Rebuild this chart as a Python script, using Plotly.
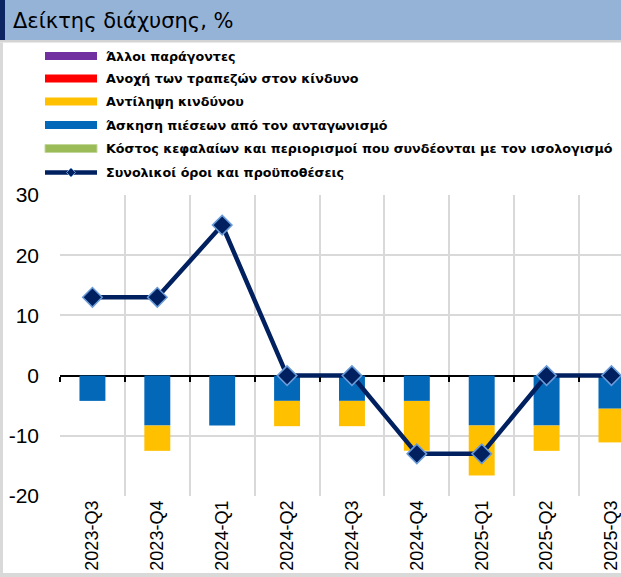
import plotly.graph_objects as go

# ---- data ----
categories = ["2023-Q3", "2023-Q4", "2024-Q1", "2024-Q2", "2024-Q3",
              "2024-Q4", "2025-Q1", "2025-Q2", "2025-Q3"]
other_factors = [0, 0, 0, 0, 0, 0, 0, 0, 0]
risk_tolerance = [0, 0, 0, 0, 0, 0, 0, 0, 0]
risk_perception = [0, -4.2, 0, -4.2, -4.2, -8.3, -8.3, -4.2, -5.6]
competition = [-4.2, -8.3, -8.3, -4.2, -4.2, -4.2, -8.3, -8.3, -5.5]
cost_of_funds = [0, 0, 0, 0, 0, 0, 0, 0, 0]
overall = [13, 13, 25, 0, 0, -13, -13, 0, 0]
y_ticks = [-20, -10, 0, 10, 20, 30]
y_tick_labels = ["-20", "-10", "0", "10", "20", "30"]

names = ["Άλλοι παράγοντες",
         "Ανοχή των τραπεζών στον κίνδυνο",
         "Αντίληψη κινδύνου",
         "Άσκηση πιέσεων από τον ανταγωνισμό",
         "Κόστος κεφαλαίων και περιορισμοί που συνδέονται με τον ισολογισμό",
         "Συνολικοί όροι και προϋποθέσεις"]
colors = ["#7030A0", "#FF0000", "#FFC000", "#0468B8", "#9BBB59", "#002060"]
title_text = "Δείκτης διάχυσης, %"

# ---- geometry ----
W, H = 621, 577
L, R, T, B = 60, 0, 195, 81
PW, PH = W - L - R, H - T - B
FONT = "Liberation Sans, Arial, sans-serif"
LEG_FONT = "DejaVu Sans, Liberation Sans, sans-serif"


def px(x):
    return (x - L) / PW


def py(y):
    return (H - B - y) / PH


fig = go.Figure()
bar_w = 0.4
fig.add_trace(go.Bar(x=categories, y=competition, name=names[3],
                     marker=dict(color=colors[3], line=dict(width=0)), width=bar_w))
fig.add_trace(go.Bar(x=categories, y=risk_perception, name=names[2],
                     marker=dict(color=colors[2], line=dict(width=0)), width=bar_w))
fig.add_trace(go.Bar(x=categories, y=other_factors, name=names[0],
                     marker=dict(color=colors[0], line=dict(width=0)), width=bar_w))
fig.add_trace(go.Bar(x=categories, y=risk_tolerance, name=names[1],
                     marker=dict(color=colors[1], line=dict(width=0)), width=bar_w))
fig.add_trace(go.Bar(x=categories, y=cost_of_funds, name=names[4],
                     marker=dict(color=colors[4], line=dict(width=0)), width=bar_w))
fig.add_trace(go.Scatter(x=categories, y=overall, name=names[5], mode="lines+markers",
                         line=dict(color=colors[5], width=4.5),
                         marker=dict(symbol="diamond", size=15, color=colors[5],
                                     line=dict(color="#6A9BD8", width=1.5)),
                         cliponaxis=False))
# invisible helper trace for the zero-line tick marks axis
fig.add_trace(go.Scatter(x=categories, y=[0] * len(categories), xaxis="x2",
                         mode="markers", marker=dict(opacity=0), hoverinfo="skip",
                         showlegend=False))

fig.update_layout(
    width=W, height=H,
    margin=dict(l=L, r=R, t=T, b=B, pad=0),
    paper_bgcolor="white", plot_bgcolor="white",
    barmode="relative",
    showlegend=False,
    font=dict(family=FONT, color="black"),
    xaxis=dict(type="category", range=[-0.5, 8.147], tickson="boundaries",
               showgrid=True, gridcolor="#D9D9D9", gridwidth=1.5,
               ticks="", tickangle=-90, tickfont=dict(size=18, family=FONT),
               showline=False, zeroline=False, fixedrange=True),
    xaxis2=dict(type="category", matches="x", overlaying="x", anchor="free",
                position=20 / 50, side="bottom", tickson="boundaries",
                ticks="outside", ticklen=5, tickwidth=1.5, tickcolor="black",
                showticklabels=False, showgrid=False, showline=False, zeroline=False),
    yaxis=dict(range=[-20, 30], tickmode="array", tickvals=y_ticks,
               ticktext=y_tick_labels, showgrid=True, gridcolor="#D9D9D9",
               gridwidth=1.5, zeroline=True, zerolinecolor="black", zerolinewidth=1.5,
               tickfont=dict(size=21, family=FONT), ticklabelstandoff=20,
               showline=False, fixedrange=True),
)

shapes = []
# header band
shapes.append(dict(type="rect", xref="paper", yref="paper",
                   x0=px(0), x1=px(W), y0=py(40), y1=py(0),
                   fillcolor="#95B3D7", line=dict(width=0), layer="above"))
shapes.append(dict(type="rect", xref="paper", yref="paper",
                   x0=px(0), x1=px(5), y0=py(40), y1=py(0),
                   fillcolor="#0C2461", line=dict(width=0), layer="above"))
shapes.append(dict(type="rect", xref="paper", yref="paper",
                   x0=px(0), x1=px(W), y0=py(42.5), y1=py(40),
                   fillcolor="#D4D4D4", line=dict(width=0), layer="above"))
# frame
shapes.append(dict(type="rect", xref="paper", yref="paper",
                   x0=px(0), x1=px(3), y0=py(H), y1=py(42.5),
                   fillcolor="#D9D9D9", line=dict(width=0), layer="above"))
shapes.append(dict(type="rect", xref="paper", yref="paper",
                   x0=px(0), x1=px(W), y0=py(H), y1=py(573),
                   fillcolor="#D9D9D9", line=dict(width=0), layer="above"))

# legend
leg_y = [56, 78.5, 101.5, 125, 148.5, 172.5]
annotations = [dict(text=title_text, xref="paper", yref="paper", x=px(11), y=py(21),
                    xanchor="left", yanchor="middle", showarrow=False,
                    font=dict(size=21, family=LEG_FONT, color="black"))]
for i, (nm, c) in enumerate(zip(names, colors)):
    yc = leg_y[i]
    if i < 5:
        shapes.append(dict(type="rect", xref="paper", yref="paper",
                           x0=px(45), x1=px(97), y0=py(yc + 4), y1=py(yc - 4),
                           fillcolor=c,
                           line=dict(width=1 if i == 4 else 0, color="#C4D79B"),
                           layer="above"))
    else:
        shapes.append(dict(type="line", xref="paper", yref="paper",
                           x0=px(45), x1=px(97), y0=py(yc), y1=py(yc),
                           line=dict(color=c, width=4.5), layer="above"))
        d = 4.5
        path = (f"M {px(71 - d)},{py(yc)} L {px(71)},{py(yc - d)} "
                f"L {px(71 + d)},{py(yc)} L {px(71)},{py(yc + d)} Z")
        shapes.append(dict(type="path", xref="paper", yref="paper", path=path,
                           fillcolor=c, line=dict(color="#6A9BD8", width=1),
                           layer="above"))
    annotations.append(dict(text=f"<b>{nm}</b>", xref="paper", yref="paper",
                            x=px(104), y=py(yc), xanchor="left", yanchor="middle",
                            showarrow=False,
                            font=dict(size=12.7, family=LEG_FONT, color="black")))

fig.update_layout(shapes=shapes, annotations=annotations)
fig.write_html("out.html",
               config={"displayModeBar": False},
               post_script="document.body.style.margin='0';"
                           "document.body.style.overflow='hidden';")
